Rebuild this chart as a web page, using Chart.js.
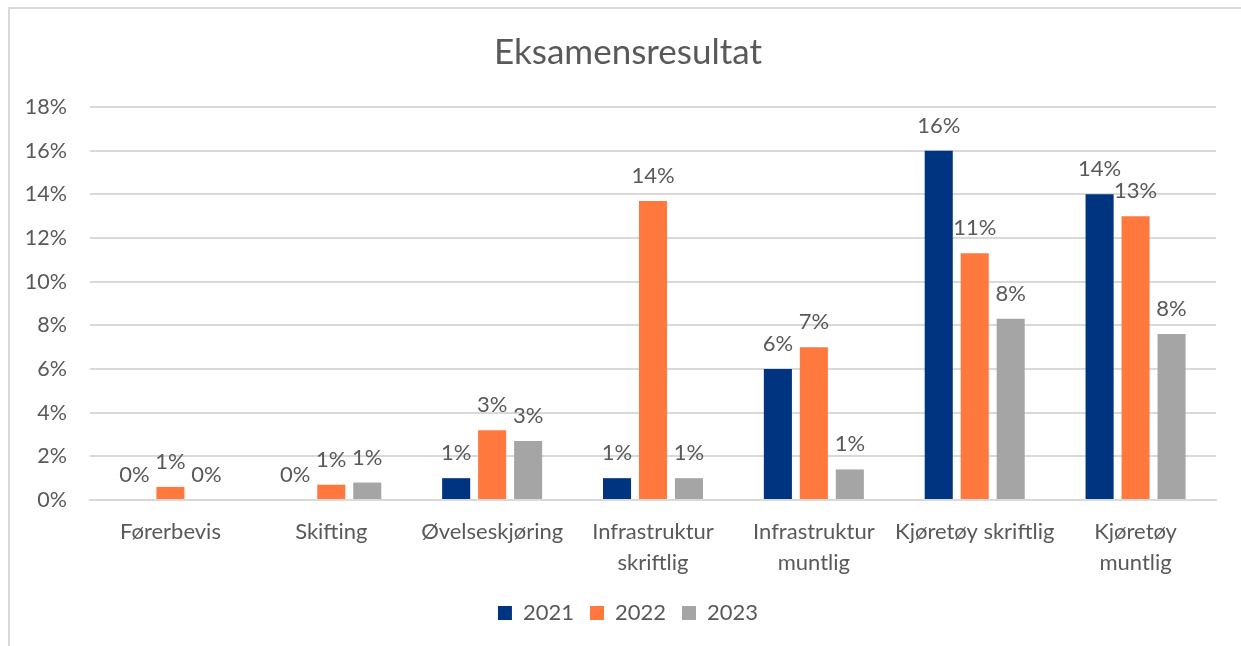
<!DOCTYPE html>
<html>
<head>
<meta charset="utf-8">
<script src="https://cdn.jsdelivr.net/npm/chart.js@4.4.1/dist/chart.umd.min.js"></script>
<style>
  html, body { margin: 0; padding: 0; background: #ffffff; }
  body { width: 1241px; height: 646px; position: relative; overflow: hidden; }
  #frame { position: absolute; left: 8px; top: 7px; width: 1400px; height: 800px;
           border-left: 2px solid #d9d9d9; border-top: 2px solid #d9d9d9; box-sizing: border-box; }
  #c { position: absolute; left: 0; top: 0; }
</style>
</head>
<body>
<div id="frame"></div>
<canvas id="c" width="1241" height="646"></canvas>
<script>
const title = 'Eksamensresultat';
const categories = [
  'Førerbevis',
  'Skifting',
  'Øvelseskjøring',
  ['Infrastruktur', 'skriftlig'],
  ['Infrastruktur', 'muntlig'],
  'Kjøretøy skriftlig',
  ['Kjøretøy', 'muntlig']
];
const seriesNames = ['2021', '2022', '2023'];
const values2021 = [0, 0, 1.0, 1.0, 6.0, 16.0, 14.0];
const values2022 = [0.6, 0.7, 3.2, 13.7, 7.0, 11.3, 13.0];
const values2023 = [0, 0.8, 2.7, 1.0, 1.4, 8.3, 7.6];
const yTicks = [0, 2, 4, 6, 8, 10, 12, 14, 16, 18];

const colors = ['#003380', '#FF793F', '#A5A5A5'];
const textColor = '#595959';
const gridColor = '#d9d9d9';
const FONT = 'Lato, "Open Sans", sans-serif';

const dataLabelPlugin = {
  id: 'dataLabels',
  afterDatasetsDraw(chart) {
    const ctx = chart.ctx;
    ctx.save();
    ctx.font = '22px ' + FONT;
    ctx.fillStyle = textColor;
    ctx.textAlign = 'center';
    ctx.textBaseline = 'alphabetic';
    chart.data.datasets.forEach((ds, i) => {
      const meta = chart.getDatasetMeta(i);
      meta.data.forEach((bar, j) => {
        const v = ds.data[j];
        ctx.fillText(Math.round(v) + '%', bar.x, bar.y - 18);
      });
    });
    ctx.restore();
  }
};

// centre title and legend on the outer chart frame rather than the canvas
const frameCenterPlugin = {
  id: 'frameCenter',
  afterLayout(chart) {
    const t = chart.titleBlock;
    if (t) { t.left = 40; t.width = t.right - t.left; }
    const l = chart.legend;
    if (l) { l.left = 40; l.width = l.right - l.left; }
  }
};

new Chart(document.getElementById('c'), {
  type: 'bar',
  data: {
    labels: categories,
    datasets: [
      { label: seriesNames[0], data: values2021, backgroundColor: colors[0] },
      { label: seriesNames[1], data: values2022, backgroundColor: colors[1] },
      { label: seriesNames[2], data: values2023, backgroundColor: colors[2] }
    ]
  },
  options: {
    responsive: false,
    animation: false,
    devicePixelRatio: 1,
    layout: { padding: { left: 0, right: 25, top: 0, bottom: 12 } },
    datasets: { bar: { categoryPercentage: 0.671, barPercentage: 0.78 } },
    plugins: {
      title: {
        display: true,
        text: title,
        color: textColor,
        font: { family: FONT, size: 35, weight: 'normal', lineHeight: 1.2 },
        padding: { top: 32, bottom: 33 }
      },
      legend: {
        display: true,
        position: 'bottom',
        labels: {
          color: textColor,
          font: { family: FONT, size: 22 },
          boxWidth: 14,
          boxHeight: 14,
          padding: 16
        }
      },
      tooltip: { enabled: false }
    },
    scales: {
      x: {
        grid: { display: false, drawTicks: false },
        border: { display: true, color: gridColor, width: 2 },
        ticks: {
          color: textColor,
          font: { family: FONT, size: 22, lineHeight: 1.4 },
          padding: 17,
          maxRotation: 0,
          autoSkip: false
        },
        afterFit(scale) { scale.height = 86; }
      },
      y: {
        min: 0,
        max: 18,
        afterBuildTicks(scale) { scale.ticks = yTicks.map(v => ({ value: v })); },
        grid: { color: gridColor, lineWidth: 2, drawTicks: false },
        border: { display: false },
        ticks: {
          color: textColor,
          font: { family: FONT, size: 21.5 },
          padding: 23,
          callback: v => v + '%'
        },
        afterFit(scale) { scale.width = 90; }
      }
    }
  },
  plugins: [dataLabelPlugin, frameCenterPlugin]
});
</script>
</body>
</html>
